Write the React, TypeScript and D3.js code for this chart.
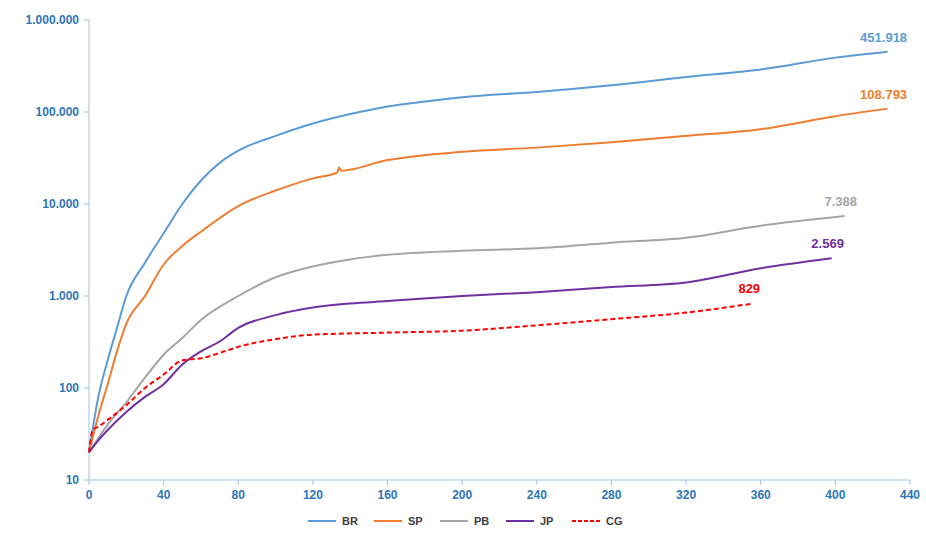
import * as React from 'react';
import * as d3 from 'd3';

const days = {
  BR: [0, 5, 10, 15, 20, 30, 40, 50, 60, 70, 80, 100, 120, 140, 160, 180, 200, 240, 280, 320, 360, 400, 428],
  SP: [0, 5, 10, 15, 20, 30, 40, 50, 60, 80, 100, 120, 133, 134, 135, 160, 200, 240, 280, 320, 360, 400, 428],
  PB: [0, 10, 20, 30, 40, 50, 60, 80, 100, 120, 140, 160, 200, 240, 280, 320, 360, 405],
  JP: [0, 5, 10, 20, 30, 40, 50, 60, 70, 80, 100, 120, 140, 160, 200, 240, 280, 320, 360, 398],
  CG: [0, 2, 5, 10, 20, 30, 40, 50, 60, 70, 80, 100, 120, 160, 200, 240, 280, 320, 356],
};
const cases = {
  BR: [20, 80, 200, 450, 1000, 2300, 4800, 10000, 18000, 28000, 38000, 55000, 75000, 95000, 115000, 130000, 145000, 165000, 195000, 240000, 290000, 390000, 451918],
  SP: [20, 50, 110, 250, 500, 1000, 2200, 3500, 5000, 9500, 14000, 19000, 22000, 25000, 23000, 30000, 37000, 41000, 47000, 55000, 65000, 90000, 108793],
  PB: [20, 40, 70, 130, 230, 350, 550, 1000, 1600, 2100, 2500, 2800, 3100, 3300, 3800, 4300, 5800, 7388],
  JP: [20, 27, 35, 55, 80, 110, 180, 250, 320, 450, 620, 750, 830, 880, 1000, 1100, 1250, 1400, 2000, 2569],
  CG: [20, 35, 38, 45, 65, 100, 140, 200, 210, 240, 280, 340, 380, 400, 420, 480, 560, 660, 829],
};
const names = ['BR', 'SP', 'PB', 'JP', 'CG'] as const;
const colors: Record<string, string> = { BR: '#5B9BD5', SP: '#ED7D31', PB: '#A5A5A5', JP: '#7030A0', CG: '#FF0000' };
const endLabels: Record<string, string> = { BR: '451.918', SP: '108.793', PB: '7.388', JP: '2.569', CG: '829' };
const yTicks = [10, 100, 1000, 10000, 100000, 1000000];
const xTicks = d3.range(0, 441, 40);

const fmt = (v: number) => v.toLocaleString('de-DE');

export default function App() {
  const x = d3.scaleLinear().domain([0, 440]).range([89, 910]);
  const y = d3.scaleLog().domain([10, 1000000]).range([480, 20]);
  const font = '"Liberation Sans", Arial, sans-serif';
  const tickColor = '#2E75B6';
  return (
    <svg width={926} height={538} style={{ position: 'absolute', left: 0, top: 0 }} fontFamily={font}>
      <rect width={926} height={538} fill="#fff" />
      <line x1={89} x2={89} y1={20} y2={480} stroke="#9DC3E6" />
      <line x1={89} x2={910} y1={480} y2={480} stroke="#9DC3E6" />
      {xTicks.map(t => (
        <g key={t}>
          <line x1={x(t)} x2={x(t)} y1={480} y2={485} stroke="#9DC3E6" />
          <text x={x(t)} y={499} textAnchor="middle" fontSize={12} fontWeight="bold" fill={tickColor}>{t}</text>
        </g>
      ))}
      {yTicks.map(t => (
        <g key={t}>
          <line x1={84} x2={89} y1={y(t)} y2={y(t)} stroke="#9DC3E6" />
          <text x={79} y={y(t) + 4} textAnchor="end" fontSize={12} fontWeight="bold" fill={tickColor}>{fmt(t)}</text>
        </g>
      ))}
      {names.map(n => {
        const pts = days[n].map((d, i) => [x(d), y(cases[n][i])] as [number, number]);
        const line = d3.line().curve(d3.curveMonotoneX)(pts) || '';
        const last = pts[pts.length - 1];
        return (
          <g key={n}>
            <path d={line} fill="none" stroke={colors[n]} strokeWidth={2} strokeDasharray={n === 'CG' ? '5,3' : undefined} />
            <text x={last[0] - 4} y={last[1] - 10} textAnchor="middle" fontSize={13} fontWeight="bold" fill={colors[n]}>{endLabels[n]}</text>
          </g>
        );
      })}
      {names.map((n, i) => {
        const lx = 308 + i * 66;
        return (
          <g key={n}>
            <line x1={lx} x2={lx + 28} y1={521} y2={521} stroke={colors[n]} strokeWidth={2} strokeDasharray={n === 'CG' ? '4,2' : undefined} />
            <text x={lx + 34} y={525} fontSize={11} fontWeight="bold" fill="#404040">{n}</text>
          </g>
        );
      })}
    </svg>
  );
}
